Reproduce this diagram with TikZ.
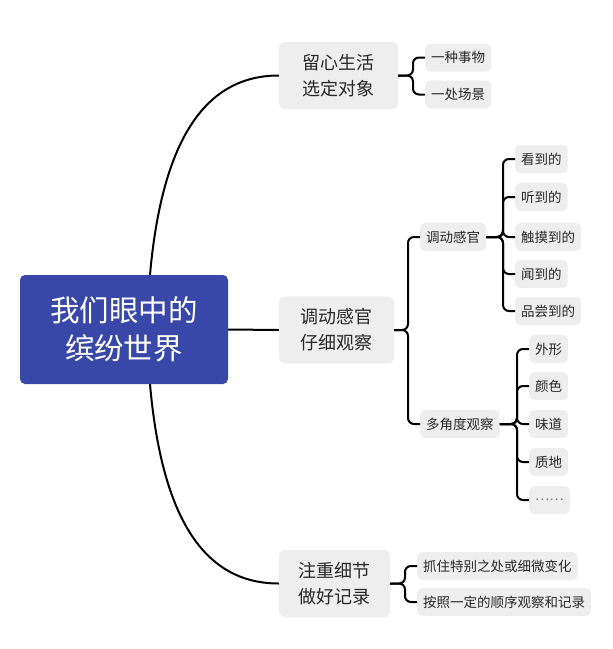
\documentclass[tikz,border=0pt]{standalone}
\usepackage{fontspec}
\newfontfamily\cjk{Noto Sans CJK SC}
\definecolor{rootblue}{RGB}{57,72,168}
\definecolor{boxgray}{RGB}{238,238,238}
\definecolor{inkgray}{RGB}{40,40,40}
\tikzset{
  rootbox/.style={fill=rootblue, rounded corners=5pt, text=white, align=center,
    minimum width=208pt, minimum height=109pt, font=\cjk\fontsize{29.5}{38}\selectfont},
  branchbox/.style={fill=boxgray, rounded corners=6pt, text=inkgray, align=center,
    minimum height=67pt, font=\cjk\fontsize{18}{26}\selectfont},
  leafbox/.style={fill=boxgray, rounded corners=5pt, text=inkgray, anchor=west,
    inner xsep=6pt, minimum height=28pt, font=\cjk\fontsize{13.5}{16}\selectfont},
  link/.style={line width=2pt, black, rounded corners=6pt},
}
\begin{document}
\begin{tikzpicture}[x=1pt, y=-1pt]
    \useasboundingbox (0,0) rectangle (613,649);

    % Root
    \node[rootbox] (root) at (124,329.5) {我们眼中的\\缤纷世界};

    % Main branches
    \node[branchbox, minimum width=119pt] (life) at (338.5,75.5) {留心生活\\选定对象};
    \node[branchbox, minimum width=115pt] (sense) at (336.5,330) {调动感官\\仔细观察};
    \node[branchbox, minimum width=111pt] (note) at (334.5,583.5) {注重细节\\做好记录};

    % Leaves of the first branch
    \node[leafbox] (thing) at (425,57.5) {一种事物};
    \node[leafbox] (scene) at (425,94.5) {一处场景};

    % Second branch
    \node[leafbox] (organ) at (420,237) {调动感官};
    \node[leafbox] (angle) at (420,424) {多角度观察};
    \node[leafbox] (see) at (515,159) {看到的};
    \node[leafbox] (hear) at (515,197) {听到的};
    \node[leafbox] (touch) at (515,237) {触摸到的};
    \node[leafbox] (smell) at (515,274) {闻到的};
    \node[leafbox] (taste) at (515,311) {品尝到的};
    \node[leafbox] (shape) at (529,349) {外形};
    \node[leafbox] (color) at (529,386) {颜色};
    \node[leafbox] (flavor) at (529,424) {味道};
    \node[leafbox] (texture) at (529,462) {质地};
    \node[leafbox, text=gray] (more) at (529,500) {……};

    % Third branch
    \node[leafbox] (detail) at (417,566) {抓住特别之处或细微变化};
    \node[leafbox] (order) at (417,602) {按照一定的顺序观察和记录};

    % Root connectors
    \draw[line width=2pt] ([xshift=26pt]root.north) .. controls (162,140) and (205,75.5) .. (life.west);
    \draw[line width=2pt] (root.east) -- (sense.west);
    \draw[line width=2pt] ([xshift=26pt]root.south) .. controls (162,520) and (205,583.5) .. (note.west);

    % Brackets
    \foreach \c in {thing,scene}
      \draw[link] (life.east) -- ([xshift=-12pt]\c.west |- life.east) |- (\c.west);
    \foreach \c in {organ,angle}
      \draw[link] (sense.east) -- ([xshift=-12pt]\c.west |- sense.east) |- (\c.west);
    \foreach \c in {see,hear,touch,smell,taste}
      \draw[link] (organ.east) -- ([xshift=-12pt]\c.west |- organ.east) |- (\c.west);
    \foreach \c in {shape,color,flavor,texture,more}
      \draw[link] (angle.east) -- ([xshift=-12pt]\c.west |- angle.east) |- (\c.west);
    \foreach \c in {detail,order}
      \draw[link] (note.east) -- ([xshift=-12pt]\c.west |- note.east) |- (\c.west);
\end{tikzpicture}
\end{document}
